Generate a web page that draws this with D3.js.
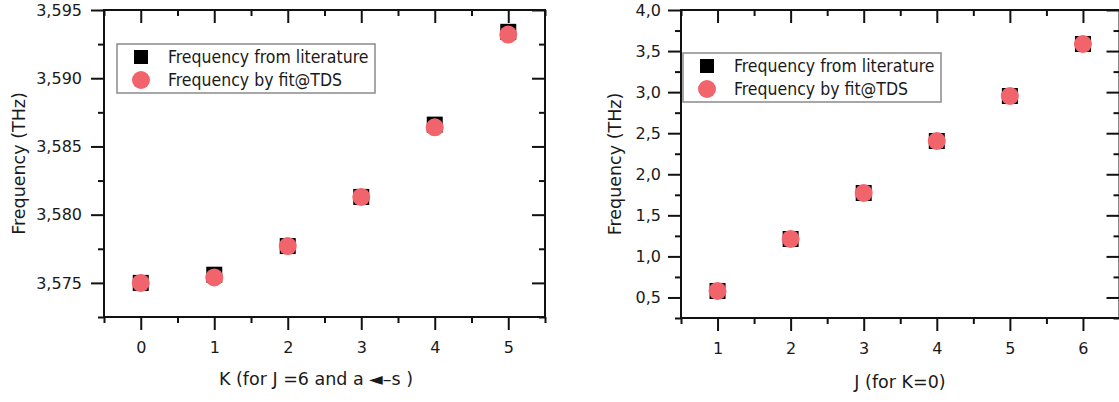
<!DOCTYPE html>
<html>
<head>
<meta charset="utf-8">
<script src="https://cdn.jsdelivr.net/npm/d3@7"></script>
<style>
  html, body { margin: 0; padding: 0; background: #fff; }
  svg { display: block; }
  text { font-family: "DejaVu Sans", sans-serif; fill: #1a1a1a; }
</style>
</head>
<body>
<svg id="chart" width="1119" height="402"></svg>
<script>
// ---------- Data ----------
const kValues = [0, 1, 2, 3, 4, 5];
const kLiterature = [3.5750, 3.5756, 3.5777, 3.5813, 3.5866, 3.5934];
const kFit = [3.5750, 3.5754, 3.5777, 3.5813, 3.5864, 3.5932];

const jValues = [1, 2, 3, 4, 5, 6];
const jLiterature = [0.579, 1.212, 1.772, 2.405, 2.953, 3.586];
const jFit = [0.579, 1.212, 1.772, 2.405, 2.953, 3.586];

const leftYTicks = [3.575, 3.580, 3.585, 3.590, 3.595];
const leftYMinor = [3.5725, 3.5775, 3.5825, 3.5875, 3.5925];
const leftXTicks = [0, 1, 2, 3, 4, 5];
const leftXMinor = [-0.5, 0.5, 1.5, 2.5, 3.5, 4.5, 5.5];

const rightYTicks = [0.5, 1.0, 1.5, 2.0, 2.5, 3.0, 3.5, 4.0];
const rightYMinor = [0.25, 0.75, 1.25, 1.75, 2.25, 2.75, 3.25, 3.75];
const rightXTicks = [1, 2, 3, 4, 5, 6];
const rightXMinor = [0.5, 1.5, 2.5, 3.5, 4.5, 5.5, 6.5];

const legendLabels = ["Frequency from literature", "Frequency by fit@TDS"];
const yTitle = "Frequency (THz)";
const leftXTitle = "K (for J =6 and a \u25C4\u2013s )";
const rightXTitle = "J  (for K=0)";

const RED = "#f1646b";
const svg = d3.select("#chart");

function panel(cfg) {
  const x = d3.scaleLinear().domain(cfg.xDomain).range([cfg.left, cfg.right]);
  const y = d3.scaleLinear().domain(cfg.yDomain).range([cfg.bottom, cfg.top]);
  const g = svg.append("g");
  const MAJ = 13, MIN = 6;
  const comma = f => d => d3.format(f)(d).replace(".", ",");

  function styleAxis(sel) {
    sel.select(".domain").remove();
    sel.selectAll("line").attr("stroke", "#111").attr("stroke-width", 2);
    sel.selectAll("text").style("font-family", "DejaVu Sans").style("font-size", "16px").attr("fill", "#1a1a1a");
  }

  // Bottom (outward)
  g.append("g").attr("transform", `translate(0,${cfg.bottom})`)
    .call(d3.axisBottom(x).tickValues(cfg.xMinor).tickSize(MIN).tickFormat("")).call(styleAxis);
  g.append("g").attr("transform", `translate(0,${cfg.bottom})`)
    .call(d3.axisBottom(x).tickValues(cfg.xTicks).tickSize(MAJ).tickPadding(12).tickFormat(d3.format("d"))).call(styleAxis);
  // Top (inward)
  g.append("g").attr("transform", `translate(0,${cfg.top})`)
    .call(d3.axisBottom(x).tickValues(cfg.xMinor).tickSize(MIN).tickFormat("")).call(styleAxis);
  g.append("g").attr("transform", `translate(0,${cfg.top})`)
    .call(d3.axisBottom(x).tickValues(cfg.xTicks).tickSize(MAJ).tickFormat("")).call(styleAxis);
  // Left (outward)
  g.append("g").attr("transform", `translate(${cfg.left},0)`)
    .call(d3.axisLeft(y).tickValues(cfg.yMinor).tickSize(MIN).tickFormat("")).call(styleAxis);
  g.append("g").attr("transform", `translate(${cfg.left},0)`)
    .call(d3.axisLeft(y).tickValues(cfg.yTicks).tickSize(MAJ).tickPadding(cfg.yPad).tickFormat(comma(cfg.yFmt))).call(styleAxis);
  // Right (inward)
  g.append("g").attr("transform", `translate(${cfg.right},0)`)
    .call(d3.axisLeft(y).tickValues(cfg.yMinor).tickSize(MIN).tickFormat("")).call(styleAxis);
  g.append("g").attr("transform", `translate(${cfg.right},0)`)
    .call(d3.axisLeft(y).tickValues(cfg.yTicks).tickSize(MAJ).tickFormat("")).call(styleAxis);

  // Frame
  g.append("rect")
    .attr("x", cfg.left).attr("y", cfg.top)
    .attr("width", cfg.right - cfg.left).attr("height", cfg.bottom - cfg.top)
    .attr("fill", "none").attr("stroke", "#111").attr("stroke-width", 2);

  // Data: squares then circles
  const S = 16, R = 9;
  g.selectAll(".sq").data(cfg.xs.map((d, i) => [d, cfg.lit[i]])).enter().append("rect")
    .attr("x", d => x(d[0]) - S / 2).attr("y", d => y(d[1]) - S / 2)
    .attr("width", S).attr("height", S).attr("fill", "#000");
  g.selectAll(".ci").data(cfg.xs.map((d, i) => [d, cfg.fit[i]])).enter().append("circle")
    .attr("cx", d => x(d[0])).attr("cy", d => y(d[1])).attr("r", R).attr("fill", RED);

  // Legend
  const lg = g.append("g").attr("transform", `translate(${cfg.legX},${cfg.legY})`);
  lg.append("rect").attr("width", 258).attr("height", 49)
    .attr("fill", "#fff").attr("stroke", "#8a8a8a").attr("stroke-width", 1.5);
  lg.append("rect").attr("x", 24 - 7).attr("y", 13 - 7).attr("width", 14).attr("height", 14).attr("fill", "#000");
  lg.append("circle").attr("cx", 24).attr("cy", 36).attr("r", 9).attr("fill", RED);
  lg.selectAll(".lt").data(legendLabels).enter().append("text")
    .attr("x", 51).attr("y", (d, i) => 13 + i * 23).attr("dy", "0.36em")
    .style("font-family", "'DejaVu Sans Condensed', 'DejaVu Sans'")
    .style("font-stretch", "condensed")
    .style("font-size", "17.5px").text(d => d);

  // Titles
  g.append("text")
    .attr("transform", `translate(${cfg.yTitleX},${(cfg.top + cfg.bottom) / 2}) rotate(-90)`)
    .attr("text-anchor", "middle").attr("dy", "0.36em")
    .style("font-size", "17.5px").text(yTitle);
  g.append("text")
    .attr("x", cfg.xTitleX).attr("y", cfg.xTitleY)
    .attr("text-anchor", "middle")
    .style("font-size", "17.5px").text(cfg.xTitle);
}

panel({
  xDomain: [-0.5, 5.5], yDomain: [3.5725, 3.595],
  left: 104, right: 545, top: 10, bottom: 317,
  xTicks: leftXTicks, xMinor: leftXMinor, yTicks: leftYTicks, yMinor: leftYMinor,
  yFmt: ".3f", yPad: 9,
  xs: kValues, lit: kLiterature, fit: kFit,
  legX: 117, legY: 44,
  yTitleX: 19, xTitleX: 316, xTitleY: 385, xTitle: leftXTitle
});

panel({
  xDomain: [0.5, 6.5], yDomain: [0.25, 4.0],
  left: 681, right: 1119.5, top: 10, bottom: 318,
  xTicks: rightXTicks, xMinor: rightXMinor, yTicks: rightYTicks, yMinor: rightYMinor,
  yFmt: ".1f", yPad: 7,
  xs: jValues, lit: jLiterature, fit: jFit,
  legX: 683, legY: 53,
  yTitleX: 615, xTitleX: 900, xTitleY: 388, xTitle: rightXTitle
});
</script>
</body>
</html>
